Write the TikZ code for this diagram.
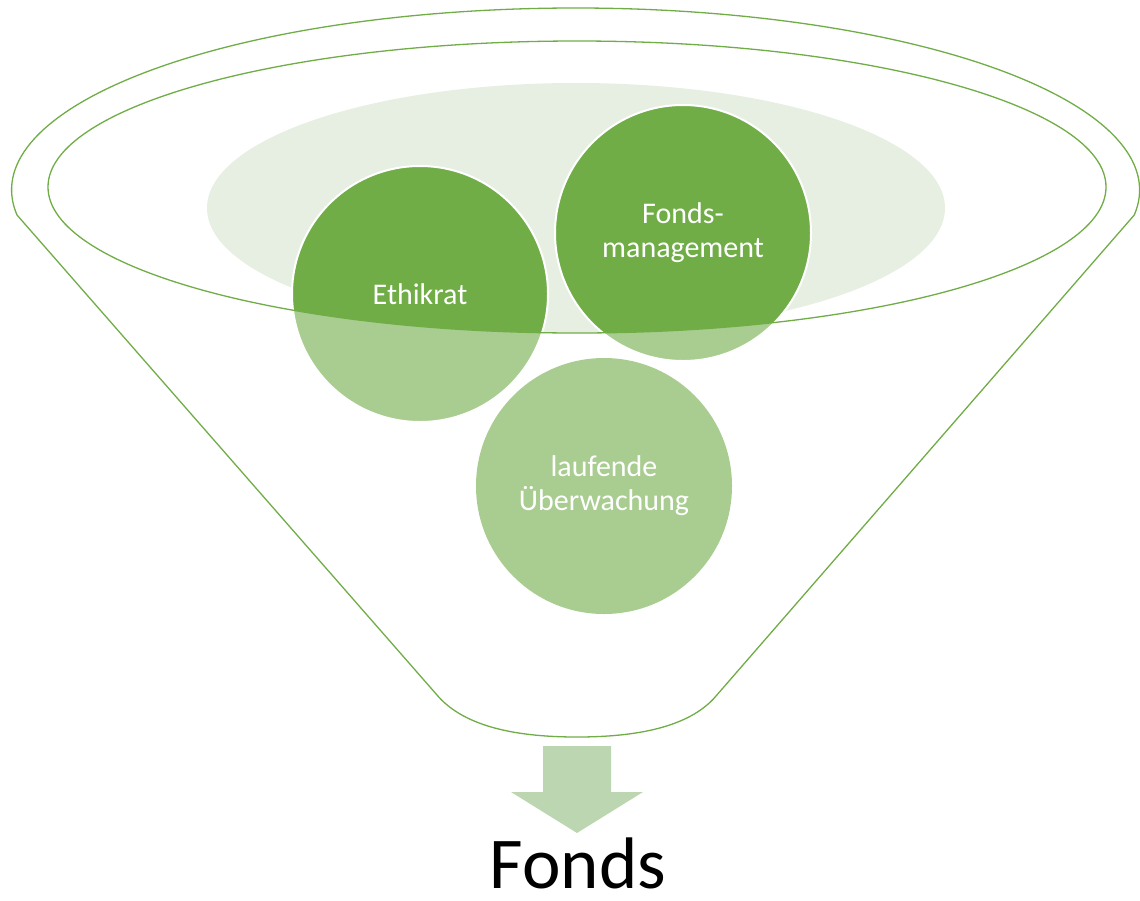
\documentclass[tikz,border=0pt]{standalone}
\usepackage{fontspec}
\setmainfont{Carlito}
\definecolor{accgreen}{RGB}{112,173,71}
\definecolor{bggreen}{RGB}{231,239,227}
\definecolor{arrowgreen}{RGB}{189,214,178}
\tikzstyle{bubble}=[circle,fill=accgreen,draw=white,line width=1pt,minimum size=128pt,inner sep=0pt,text=white,align=center,font=\fontsize{15}{17}\selectfont]
\tikzstyle{rim}=[draw=accgreen,line width=0.65pt]
\newcommand{\funnelpath}{(17,215) arc[start angle=172.1,end angle=367.9,x radius=564,y radius=182]
    -- (716,696) .. controls (689,728) and (634,737) .. (577,737)
    .. controls (520,737) and (465,728) .. (437,695) -- cycle}

\begin{document}
\begin{tikzpicture}[x=0.5pt,y=-0.5pt]
    \useasboundingbox (0,0) rectangle (1140,900);
    % light back ellipse
    \fill[bggreen] (576,208) ellipse [x radius=369,y radius=125];

    \node[bubble] (ethik) at (420,294) {Ethikrat};
    \node[bubble] (mgmt) at (683,233) {Fonds-\\management};
    \node[bubble,draw=none] (watch) at (604,486) {laufende\\Überwachung};

    % funnel body lightens what lies below the rim
    \fill[white,opacity=0.4,even odd rule] \funnelpath (577,187) ellipse [x radius=529,y radius=146];
    \draw[rim] \funnelpath;
    \draw[rim] (577,187) ellipse [x radius=529,y radius=146];

    \fill[arrowgreen] (543,746) -- (611,746) -- (611,792) -- (643,792) -- (577,833)
        -- (511,792) -- (543,792) -- cycle;
    \node[anchor=base,inner sep=0pt,font=\fontsize{36.5}{40}\selectfont] (fonds) at (578,888) {Fonds};
\end{tikzpicture}
\end{document}
